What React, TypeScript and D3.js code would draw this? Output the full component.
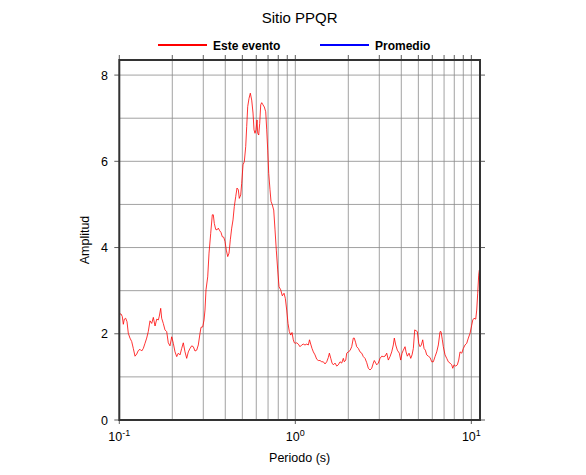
import React from "react";
import * as d3 from "d3";

const title = "Sitio PPQR";
const seriesNames = ["Este evento", "Promedio"];
const seriesColors = ["#ff0000", "#0000ff"];
const xLabel = "Periodo (s)";
const yLabel = "Amplitud";
const xDomain = [0.1, 11.2];
const yDomain = [0, 8.35];
const yTicks = [0, 2, 4, 6, 8];
const yGrid = [1, 2, 3, 4, 5, 6, 7, 8];
const xMajor = [0.1, 1, 10];
const xMajorExp = ["-1", "0", "1"];

const periods = [
  0.1, 0.1023, 0.104, 0.1054, 0.1068, 0.1087, 0.1106, 0.1125, 0.115, 0.1176,
  0.1201, 0.1228, 0.1256, 0.1282, 0.1311, 0.134, 0.1369, 0.14, 0.1431, 0.1461,
  0.1494, 0.1528, 0.1561, 0.1596, 0.1632, 0.1666, 0.1688, 0.1719, 0.1741, 0.1778,
  0.1818, 0.1859, 0.1898, 0.1941, 0.1985, 0.2027, 0.2073, 0.2119, 0.2164, 0.2213,
  0.2262, 0.231, 0.2362, 0.2415, 0.2466, 0.2522, 0.2578, 0.2633, 0.2692, 0.2753,
  0.2811, 0.2874, 0.2912, 0.2978, 0.3029, 0.3068, 0.3109, 0.3179, 0.3234, 0.3306,
  0.3376, 0.342, 0.3465, 0.3529, 0.359, 0.3651, 0.3719, 0.3783, 0.3848, 0.392,
  0.3987, 0.4055, 0.413, 0.4201, 0.4273, 0.4351, 0.4426, 0.4501, 0.4585, 0.4664,
  0.4744, 0.4806, 0.4895, 0.4959, 0.5045, 0.5131, 0.5226, 0.5295, 0.5365, 0.5457,
  0.5551, 0.5653, 0.5751, 0.5826, 0.5902, 0.598, 0.6059, 0.6115, 0.6194, 0.6276,
  0.6359, 0.6443, 0.6553, 0.6666, 0.6789, 0.6879, 0.697, 0.7062, 0.7182, 0.7276,
  0.7401, 0.7539, 0.7668, 0.7798, 0.7943, 0.808, 0.826, 0.8435, 0.8626, 0.8775,
  0.8935, 0.9088, 0.9245, 0.9417, 0.9579, 0.9741, 0.987, 1.0, 1.019, 1.04,
  1.063, 1.087, 1.11, 1.135, 1.161, 1.186, 1.204, 1.223, 1.244, 1.266,
  1.294, 1.323, 1.351, 1.381, 1.413, 1.443, 1.475, 1.508, 1.54, 1.561,
  1.59, 1.617, 1.645, 1.682, 1.719, 1.755, 1.795, 1.835, 1.874, 1.898,
  1.934, 1.959, 2.0, 2.045, 2.091, 2.135, 2.163, 2.203, 2.232, 2.28,
  2.331, 2.384, 2.434, 2.489, 2.545, 2.599, 2.657, 2.717, 2.774, 2.811,
  2.863, 2.901, 2.962, 3.029, 3.097, 3.162, 3.234, 3.306, 3.376, 3.452,
  3.529, 3.604, 3.651, 3.719, 3.797, 3.898, 3.97, 4.039, 4.108, 4.201,
  4.256, 4.329, 4.427, 4.526, 4.604, 4.683, 4.769, 4.851, 4.934, 5.025,
  5.111, 5.199, 5.295, 5.386, 5.478, 5.58, 5.698, 5.826, 5.957, 6.083,
  6.22, 6.359, 6.494, 6.641, 6.727, 6.843, 6.933, 7.089, 7.248, 7.401,
  7.568, 7.738, 7.841, 7.975, 8.155, 8.327, 8.48, 8.626, 8.822, 9.007,
  9.21, 9.417, 9.616, 9.831, 10.05, 10.19, 10.36, 10.59, 10.73, 10.87,
  11.01, 11.1,
];

const esteEvento = [
  2.46, 2.46, 2.4, 2.22, 2.34, 2.36, 2.28, 2.01, 1.9, 1.82,
  1.66, 1.48, 1.53, 1.61, 1.64, 1.6, 1.66, 1.78, 1.9, 2.05,
  2.3, 2.24, 2.38, 2.18, 2.34, 2.32, 2.41, 2.59, 2.36, 2.24,
  2.09, 2.05, 1.79, 1.72, 1.93, 1.78, 1.58, 1.47, 1.55, 1.51,
  1.66, 1.79, 1.58, 1.43, 1.58, 1.66, 1.72, 1.7, 1.6, 1.62,
  1.74, 2.01, 2.15, 2.16, 2.32, 2.55, 3.02, 3.32, 3.87, 4.33,
  4.76, 4.76, 4.56, 4.42, 4.41, 4.45, 4.39, 4.35, 4.25, 4.24,
  4.14, 3.94, 3.79, 3.87, 4.18, 4.45, 4.64, 4.95, 5.18, 5.38,
  5.34, 5.14, 5.22, 5.49, 5.92, 5.99, 6.34, 6.81, 7.27, 7.46,
  7.58, 7.42, 7.12, 6.73, 6.65, 6.73, 6.96, 6.65, 6.61, 6.88,
  7.31, 7.36, 7.31, 7.26, 7.15, 6.73, 6.26, 5.72, 5.34, 5.07,
  4.99, 4.87, 4.41, 3.94, 3.48, 3.09, 3.02, 2.88, 2.94, 2.82,
  2.55, 2.24, 2.05, 1.97, 2.03, 1.86, 1.79, 1.78, 1.79, 1.76,
  1.7, 1.74, 1.76, 1.74, 1.76, 1.74, 1.86, 1.76, 1.66, 1.58,
  1.51, 1.41, 1.38, 1.38, 1.35, 1.35, 1.3, 1.35, 1.45, 1.55,
  1.43, 1.32, 1.28, 1.32, 1.25, 1.28, 1.35, 1.32, 1.43, 1.35,
  1.39, 1.55, 1.58, 1.61, 1.7, 1.9, 1.9, 1.79, 1.7, 1.66,
  1.58, 1.55, 1.47, 1.43, 1.33, 1.2, 1.16, 1.2, 1.32, 1.38,
  1.32, 1.28, 1.32, 1.43, 1.48, 1.47, 1.48, 1.55, 1.39, 1.47,
  1.58, 1.74, 1.9, 1.74, 1.62, 1.55, 1.39, 1.55, 1.62, 1.7,
  1.58, 1.48, 1.55, 1.43, 1.51, 1.66, 2.09, 2.07, 2.05, 1.78,
  1.7, 1.74, 1.86, 1.66, 1.62, 1.51, 1.48, 1.45, 1.35, 1.35,
  1.47, 1.58, 1.74, 2.05, 2.05, 1.86, 1.7, 1.51, 1.43, 1.35,
  1.32, 1.28, 1.2, 1.28, 1.25, 1.28, 1.39, 1.58, 1.55, 1.66,
  1.74, 1.78, 1.9, 2.01, 2.2, 2.32, 2.36, 2.34, 2.55, 2.94,
  3.36, 3.48,
];

const W = 586;
const H = 475;
const left = 119.3;
const right = 480;
const top = 60;
const bottom = 420;
const font = "'Liberation Sans', Arial, Helvetica, sans-serif";

export default function App() {
  const x = d3.scaleLog().domain(xDomain).range([left, right]);
  const y = d3.scaleLinear().domain(yDomain).range([bottom, top]);

  const minorX: number[] = [];
  [0.1, 1, 10].forEach((dec) => {
    for (let k = 1; k <= 9; k++) {
      const v = dec * k;
      if (v >= xDomain[0] - 1e-9 && v <= xDomain[1]) minorX.push(v);
    }
  });

  const line = d3
    .line<number>()
    .x((_, i) => x(periods[i]))
    .y((d) => y(d))
    .curve(d3.curveLinear);

  const gridColor = "#8a8a8a";

  return (
    <div style={{ position: "absolute", left: 0, top: 0 }}>
      <svg width={W} height={H} style={{ display: "block", fontFamily: font }}>
        <rect x={0} y={0} width={W} height={H} fill="#fff" />
        <text x={(left + right) / 2} y={23} textAnchor="middle" fontSize={15} fill="#000">
          {title}
        </text>
        {/* legend */}
        <line x1={158} x2={207} y1={45} y2={45} stroke={seriesColors[0]} strokeWidth={2} />
        <text x={213} y={49.5} fontSize={12} fontWeight="bold" fill="#000">
          {seriesNames[0]}
        </text>
        <line x1={320} x2={369} y1={45} y2={45} stroke={seriesColors[1]} strokeWidth={2} />
        <text x={375} y={49.5} fontSize={12} fontWeight="bold" fill="#000">
          {seriesNames[1]}
        </text>

        {/* grid */}
        {yGrid.map((v) => (
          <line key={"gy" + v} x1={left} x2={right} y1={y(v)} y2={y(v)} stroke={gridColor} strokeWidth={0.8} />
        ))}
        {minorX.map((v) => (
          <line key={"gx" + v} x1={x(v)} x2={x(v)} y1={top} y2={bottom} stroke={gridColor} strokeWidth={0.8} />
        ))}
        {/* top ticks */}
        {minorX.map((v) => (
          <line key={"tt" + v} x1={x(v)} x2={x(v)} y1={top - 5} y2={top} stroke="#333" strokeWidth={0.8} />
        ))}
        {/* bottom major ticks */}
        {xMajor.map((v) => (
          <line key={"bt" + v} x1={x(v)} x2={x(v)} y1={bottom} y2={bottom + 4} stroke="#333" strokeWidth={0.8} />
        ))}
        {/* y ticks */}
        {yTicks.map((v) => (
          <g key={"yt" + v}>
            <line x1={left - 5} x2={left} y1={y(v)} y2={y(v)} stroke="#333" strokeWidth={0.8} />
            <line x1={right} x2={right + 5} y1={y(v)} y2={y(v)} stroke="#333" strokeWidth={0.8} />
            <text x={108} y={y(v) + 4.5} textAnchor="end" fontSize={12.5} fill="#000">
              {v}
            </text>
          </g>
        ))}
        {/* x tick labels */}
        {xMajor.map((v, i) => (
          <text key={"xl" + v} x={x(v)} y={441} textAnchor="middle" fontSize={12.5} fill="#000">
            10
            <tspan fontSize={9} dy={-5}>
              {xMajorExp[i]}
            </tspan>
          </text>
        ))}

        {/* data */}
        <defs>
          <clipPath id="plotclip">
            <rect x={left} y={top} width={right - left} height={bottom - top} />
          </clipPath>
        </defs>
        <path
          d={line(esteEvento) || ""}
          fill="none"
          stroke={seriesColors[0]}
          strokeWidth={0.8}
          clipPath="url(#plotclip)"
        />

        {/* frame */}
        <rect x={left} y={top} width={right - left} height={bottom - top} fill="none" stroke="#333" strokeWidth={2} />

        <text x={(left + right) / 2} y={462} textAnchor="middle" fontSize={12.5} fill="#000">
          {xLabel}
        </text>
        <text
          transform={`translate(89, ${(top + bottom) / 2}) rotate(-90)`}
          textAnchor="middle"
          fontSize={12.5}
          fill="#000"
        >
          {yLabel}
        </text>
      </svg>
    </div>
  );
}
